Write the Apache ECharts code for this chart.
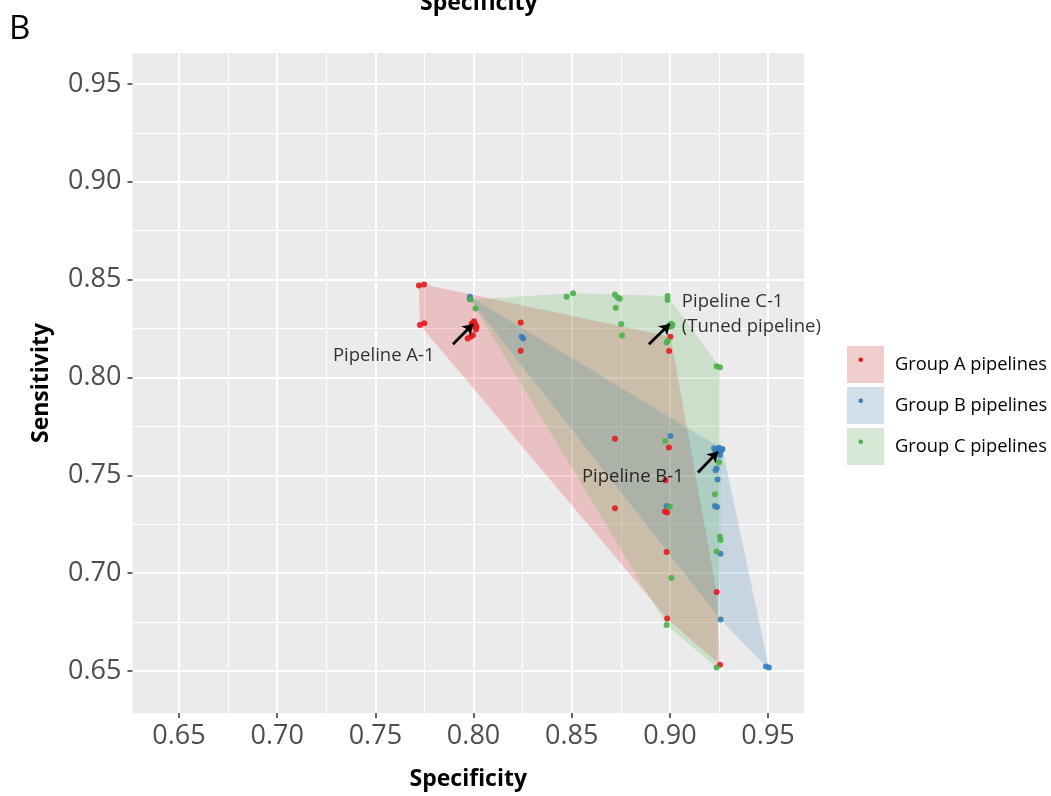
<!DOCTYPE html>
<html>
<head>
<meta charset="utf-8">
<title>Sensitivity vs Specificity</title>
<script src="https://cdn.jsdelivr.net/npm/echarts@6/dist/echarts.min.js"></script>
<style>
    html, body { margin: 0; padding: 0; background: #fff; }
    #chart { width: 1051px; height: 796px; }
</style>
</head>
<body>
<div id="chart"></div>
<script>
// tick values on both axes
var majorTicks = [0.65, 0.70, 0.75, 0.80, 0.85, 0.90, 0.95];
var minorTicks = [0.675, 0.725, 0.775, 0.825, 0.875, 0.925];

var groupNames = ['Group A pipelines', 'Group B pipelines', 'Group C pipelines'];

// [specificity, sensitivity]
var groupA = [
    [0.7722,0.8470],[0.7748,0.8475],[0.7727,0.8268],[0.7749,0.8277],
    [0.7990,0.8275],[0.8000,0.8283],[0.8010,0.8271],[0.7998,0.8263],[0.8015,0.8258],[0.8003,0.8288],[0.8012,0.8245],
    [0.7970,0.8199],[0.7997,0.8216],[0.7985,0.8208],
    [0.8240,0.8281],[0.8240,0.8137],
    [0.9003,0.8208],[0.8996,0.8136],
    [0.8720,0.7687],[0.8995,0.7642],[0.8978,0.7475],[0.8720,0.7332],[0.8975,0.7315],[0.8986,0.7311],
    [0.8983,0.7108],[0.9238,0.6904],[0.8986,0.6769],[0.9255,0.6532]
];
var groupB = [
    [0.7982,0.8413],[0.7980,0.8401],[0.8245,0.8208],[0.8253,0.8199],[0.9003,0.7701],[0.8983,0.7343],
    [0.9225,0.7638],[0.9240,0.7633],[0.9250,0.7641],[0.9262,0.7628],[0.9232,0.7623],[0.9255,0.7618],[0.9245,0.7613],[0.9268,0.7635],
    [0.9255,0.7603],[0.9238,0.7535],[0.9233,0.7526],[0.9243,0.7479],[0.9229,0.7343],[0.9240,0.7338],
    [0.9258,0.7099],[0.9258,0.6764],[0.9489,0.6523],[0.9504,0.6518]
];
var groupC = [
    [0.7985,0.8398],[0.8010,0.8353],[0.8474,0.8413],[0.8507,0.8430],[0.8720,0.8424],[0.8735,0.8407],[0.8745,0.8403],
    [0.8724,0.8357],[0.8752,0.8273],[0.8756,0.8215],[0.8988,0.8416],[0.8988,0.8396],
    [0.8997,0.8267],[0.9005,0.8275],[0.9010,0.8263],[0.8995,0.8258],[0.9012,0.8271],
    [0.8983,0.8179],[0.8990,0.8188],
    [0.9238,0.8057],[0.9255,0.8052],
    [0.8976,0.7676],[0.9251,0.7567],[0.9229,0.7403],[0.9000,0.7340],[0.9255,0.7188],[0.9258,0.7170],
    [0.9238,0.7111],[0.9008,0.6976],[0.8983,0.6735],[0.9238,0.6518]
];

// annotation arrows [from, to] and their labels
var arrows = [
    [[0.7895,0.8170],[0.7997,0.8273]],
    [[0.8893,0.8170],[0.8999,0.8273]],
    [[0.9143,0.7515],[0.9244,0.7621]]
];
var notes = [
    [0.7284, 0.8112, 'Pipeline A-1'],
    [0.9061, 0.8388, 'Pipeline C-1'],
    [0.9061, 0.8261, '(Tuned pipeline)'],
    [0.8552, 0.7491, 'Pipeline B-1']
];

var colors = ['#E41A1C', '#377EB8', '#4DAF4A'];
var fills = ['rgba(228,26,28,0.2)', 'rgba(55,126,184,0.2)', 'rgba(77,175,74,0.2)'];
var keyFills = ['#EFC7C7', '#CDDBE6', '#D1E5D0'];
var font = 'Open Sans';

// convex hull (monotone chain)
function hull(points) {
    var p = points.slice().sort(function (a, b) { return a[0] - b[0] || a[1] - b[1]; });
    function cross(o, a, b) { return (a[0] - o[0]) * (b[1] - o[1]) - (a[1] - o[1]) * (b[0] - o[0]); }
    var lower = [], upper = [];
    for (var i = 0; i < p.length; i++) {
        while (lower.length >= 2 && cross(lower[lower.length - 2], lower[lower.length - 1], p[i]) <= 0) lower.pop();
        lower.push(p[i]);
    }
    for (var j = p.length - 1; j >= 0; j--) {
        while (upper.length >= 2 && cross(upper[upper.length - 2], upper[upper.length - 1], p[j]) <= 0) upper.pop();
        upper.push(p[j]);
    }
    upper.pop(); lower.pop();
    return lower.concat(upper);
}

var groups = [groupA, groupB, groupC];
var series = [];

groups.forEach(function (g, i) {
    var h = hull(g);
    series.push({
        type: 'custom',
        coordinateSystem: 'cartesian2d',
        silent: true,
        z: 1,
        data: [h[0]],
        renderItem: function (params, api) {
            return {
                type: 'polygon',
                shape: { points: h.map(function (p) { return api.coord(p); }) },
                style: { fill: fills[i] }
            };
        }
    });
});

groups.forEach(function (g, i) {
    series.push({
        name: groupNames[i],
        type: 'scatter',
        z: 3,
        symbolSize: 6,
        itemStyle: { color: colors[i], opacity: 0.9 },
        data: g
    });
});

series.push({
    type: 'lines',
    coordinateSystem: 'cartesian2d',
    z: 4,
    symbol: ['none', 'arrow'],
    symbolSize: 10,
    lineStyle: { color: '#000', width: 2.8, opacity: 1 },
    data: arrows.map(function (a) { return { coords: a }; })
});

series.push({
    type: 'scatter',
    z: 5,
    symbolSize: 0,
    silent: true,
    data: notes.map(function (n) { return [n[0], n[1], n[2]]; }),
    label: {
        show: true,
        position: 'right',
        distance: 0,
        formatter: function (p) { return p.value[2]; },
        color: '#000',
        fontSize: 18.5,
        fontFamily: font
    }
});

var xMin = 0.6263, xMax = 0.9683;
var yMin = 0.6286, yMax = 0.9658;

function axisPair(min, max, isX) {
    var major = {
        type: 'value',
        min: min,
        max: max,
        axisLine: { show: false },
        axisTick: { show: true, customValues: majorTicks, length: 5, lineStyle: { color: '#333', width: 1.5 } },
        axisLabel: {
            customValues: majorTicks,
            formatter: function (v) { return v.toFixed(2); },
            color: '#4D4D4D',
            fontSize: 27,
            fontFamily: font,
            margin: isX ? 10 : 11
        },
        splitLine: { show: true, lineStyle: { color: '#fff', width: 2 } },
        name: isX ? 'Specificity' : 'Sensitivity',
        nameLocation: 'middle',
        nameGap: isX ? 55 : 80,
        nameTextStyle: { fontSize: 23, fontWeight: 'bold', color: '#000', fontFamily: font }
    };
    var minor = {
        type: 'value',
        min: min,
        max: max,
        axisLine: { show: false },
        axisTick: { show: false, customValues: minorTicks },
        axisLabel: { show: false, customValues: minorTicks },
        splitLine: { show: true, lineStyle: { color: '#fff', width: 1 } }
    };
    return [major, minor];
}

var option = {
    backgroundColor: '#fff',
    animation: false,
    grid: {
        left: 132.5,
        top: 53,
        width: 671.5,
        height: 662,
        show: true,
        backgroundColor: '#EBEBEB',
        borderWidth: 0
    },
    xAxis: axisPair(xMin, xMax, true),
    yAxis: axisPair(yMin, yMax, false),
    legend: {
        orient: 'vertical',
        left: 842,
        top: 341,
        itemWidth: 37,
        itemHeight: 37,
        itemGap: 4,
        selectedMode: false,
        textStyle: { fontSize: 18.3, color: '#000', fontFamily: font, padding: [0, 0, 0, 6] },
        data: groupNames.map(function (n, i) {
            return { name: n, icon: 'rect', itemStyle: { color: keyFills[i], borderWidth: 0 } };
        })
    },
    graphic: [
        { type: 'text', left: 9, top: 13, style: { text: 'B', fontSize: 33, fontFamily: font, fill: '#000' } },
        { type: 'text', left: 420, top: -8, style: { text: 'Specificity', fontSize: 23, fontWeight: 'bold', fontFamily: font, fill: '#000' } }
    ].concat(colors.map(function (c, i) {
        return { type: 'circle', shape: { cx: 860.8, cy: 359.8 + i * 41, r: 2.3 }, style: { fill: c }, z: 100 };
    })),
    series: series
};

var myChart = echarts.init(document.getElementById('chart'));
myChart.setOption(option);
window.addEventListener('resize', function () { myChart.resize(); });
</script>
</body>
</html>
